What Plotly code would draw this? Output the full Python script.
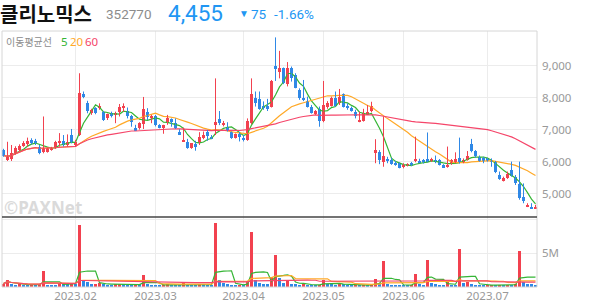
import pandas as pd
import plotly.graph_objects as go

# ---------------- data ----------------
holidays = ["2023-01-23", "2023-01-24", "2023-03-01", "2023-05-01",
            "2023-05-05", "2023-05-29", "2023-06-06"]
dates = [d for d in pd.bdate_range("2023-01-04", "2023-07-19")
         if d.strftime("%Y-%m-%d") not in holidays]

opens = [6360,6080,6080,6260,6370,6500,6540,6670,6650,6470,
         6290,6310,6370,6420,6570,6650,6520,6830,6520,6830,
         8100,7840,7510,7670,7670,7540,7350,7510,7460,7560,
         7700,7580,7410,7040,7040,7170,7560,7350,7410,7130,
         7080,7200,7330,7200,6910,6620,6600,6420,6540,6570,
         6730,6920,6780,7150,7330,7130,7090,6920,6750,6850,
         6750,6690,7200,8000,7960,7750,7750,7720,8990,8810,
         8920,8420,8940,8710,8240,7980,7880,7720,7480,7650,
         7270,7720,7750,8000,7820,8100,7750,7670,7540,7250,
         7270,7480,7580,6260,6310,5980,6080,6050,5950,5950,
         5840,5870,5950,6020,6030,6050,6080,6020,6050,6050,
         5900,5840,5920,6000,6120,5980,6050,6540,6330,6130,
         6100,6100,6050,6000,5580,5400,5480,5740,5530,5290,
         4880,4600,4590,4540]
highs = [6400,6620,6520,6480,6540,6640,6750,6730,6710,6520,
         7410,6440,6460,6650,6890,6830,6850,7020,6680,8760,
         8190,7900,7650,7700,7820,7580,7500,7560,7560,7800,
         7820,7690,7460,7150,7230,8020,7670,7460,7460,7170,
         7150,7460,7350,7350,7010,7060,6710,6580,6650,6920,
         6940,6990,6830,8600,7580,7270,7230,6940,6880,6920,
         6830,7350,8600,8190,8190,7880,7960,8550,9880,9460,
         8940,9110,8970,8760,8290,8550,8030,7770,7610,7720,
         8520,7890,8030,8190,8270,8130,7820,7720,7620,7560,
         7650,7770,7870,6700,6360,7410,6150,6120,6020,5970,
         5950,5950,5990,6780,6090,6080,6910,6120,6190,6080,
         5920,6470,6080,6290,6750,6100,6330,6710,6360,6190,
         6150,6120,6100,6020,5690,5530,5690,6000,5580,6000,
         5320,4700,4700,4650]
lows = [6150,6020,6020,6220,6330,6460,6470,6540,6520,6230,
        6260,6280,6340,6400,6470,6470,6470,6570,6470,6800,
        7980,7510,7460,7480,7620,7270,7300,7380,7200,7410,
        7560,7350,7090,6960,7000,7020,7300,7200,7100,7040,
        6870,7150,7090,7020,6830,6620,6400,6400,6340,6520,
        6700,6650,6700,6830,7140,7100,6940,6710,6720,6630,
        6630,6650,7170,7720,7620,7620,7580,7690,8520,8600,
        8420,8350,8500,8290,7930,7890,7690,7500,7460,7090,
        7230,7650,7720,7720,7770,7690,7620,7560,7350,7230,
        7250,7460,7540,5950,5920,5840,5950,5900,5870,5790,
        5790,5850,5860,5980,5950,5940,5980,5990,5950,5880,
        5800,5810,5900,5950,5940,5950,6030,6290,6120,6000,
        5950,6000,5840,5640,5430,5380,5460,5530,5270,4810,
        4700,4580,4520,4520]
closes = [6190,6140,6260,6420,6500,6590,6650,6570,6590,6260,
          6420,6420,6440,6620,6650,6520,6620,6620,6600,8140,
          8020,7580,7620,7510,7750,7300,7490,7410,7510,7720,
          7750,7440,7250,6970,7200,7650,7380,7440,7150,7060,
          7130,7350,7230,7060,6850,6680,6420,6570,6470,6780,
          6830,6810,6710,7250,7200,7220,6990,6750,6850,6790,
          6690,7270,8100,7820,7650,7690,7650,8520,8890,8920,
          8450,8940,8600,8310,7980,7930,7720,7530,7580,7270,
          7770,7820,8000,7750,8030,7720,7670,7610,7410,7300,
          7510,7540,7750,6370,6050,6160,6020,5930,5880,5810,
          5900,5920,5880,6080,5970,5980,6000,6080,6000,5900,
          5810,5900,6050,6080,5980,6050,6190,6330,6160,6020,
          6020,6020,6000,5670,5460,5500,5600,5560,5320,4860,
          4770,4650,4540,4590]
volumes_m = [0.5,1.1,0.4,0.3,0.4,0.3,0.3,0.4,0.3,0.4,
             2.4,0.3,0.3,0.3,0.6,0.4,0.4,0.5,0.5,9.2,
             1.0,0.7,0.4,0.5,0.6,0.4,0.35,0.3,0.4,0.5,
             0.4,0.3,0.3,0.4,0.4,1.8,0.5,0.3,0.3,0.25,
             0.3,0.4,0.3,0.3,0.3,0.6,0.35,0.3,0.3,0.45,
             0.4,0.3,0.25,9.5,1.1,0.6,0.45,0.35,0.25,0.35,
             0.25,0.95,8.2,1.1,0.6,0.45,0.45,1.5,4.75,1.3,
             0.6,0.95,0.45,0.45,0.35,0.45,0.35,0.25,0.25,0.35,
             1.1,0.5,0.4,0.3,0.45,0.45,0.3,0.25,0.3,0.25,
             0.3,0.3,0.35,1.2,0.6,3.9,0.45,0.35,0.3,0.3,
             0.25,0.25,0.3,2.0,0.5,0.3,4.0,0.6,0.45,0.35,
             0.3,0.8,0.3,0.3,5.7,0.6,0.8,0.45,0.3,0.25,
             0.25,0.3,0.35,0.3,0.35,0.3,0.35,0.3,0.4,5.3,
             0.8,0.5,0.4,0.35]

price_ticks = [5000, 6000, 7000, 8000, 9000]
ma_windows = [5, 20, 60]

name_kr = "클리노믹스"
code = "352770"
last_price = "4,455"
change = "75"
change_pct = "-1.66%"

# ---------------- styles ----------------
RED = "#f2414f"
BLUE = "#2f88e6"
MA_COLORS = {5: "#35b535", 20: "#ffa928", 60: "#f5466a"}
GRID = "#ececec"
TXT = "#999999"

W, H = 594, 304
ML, MR, MT, MB = 2, 57, 31, 17
PW, PH = W - ML - MR, H - MT - MB
split = (H - MB - 217) / PH  # separator between price and volume panes


def px(x):
    return (x - ML) / PW


def py(y):
    return (H - MB - y) / PH


n = len(dates)
idx = list(range(n))
close_s = pd.Series(closes)
vol_s = pd.Series(volumes_m)

fig = go.Figure()

# moving averages (price)
for w in ma_windows:
    fig.add_trace(go.Scatter(x=idx, y=close_s.rolling(w, min_periods=1).mean(),
                             mode="lines", line=dict(color=MA_COLORS[w], width=1.2),
                             xaxis="x", yaxis="y", hoverinfo="skip"))

# candles: wicks + bodies
for up, col in [(True, RED), (False, BLUE)]:
    sel = [i for i in idx if (closes[i] >= opens[i]) == up]
    wx, wy = [], []
    for i in sel:
        wx += [i, i, None]
        wy += [lows[i], highs[i], None]
    fig.add_trace(go.Scatter(x=wx, y=wy, mode="lines", line=dict(color=col, width=1),
                             xaxis="x", yaxis="y", hoverinfo="skip"))
    fig.add_trace(go.Bar(x=sel, y=[abs(closes[i] - opens[i]) for i in sel],
                         base=[min(closes[i], opens[i]) for i in sel],
                         width=0.75, marker=dict(color=col, line=dict(width=0)),
                         xaxis="x", yaxis="y", hoverinfo="skip"))

# volume bars
vcols = [RED if (i == 0 or volumes_m[i] > volumes_m[i - 1]) else BLUE for i in idx]
fig.add_trace(go.Bar(x=idx, y=volumes_m, width=0.75,
                     marker=dict(color=vcols, line=dict(width=0)),
                     xaxis="x", yaxis="y2", hoverinfo="skip"))
for w in ma_windows:
    fig.add_trace(go.Scatter(x=idx, y=vol_s.rolling(w, min_periods=1).mean(),
                             mode="lines", line=dict(color=MA_COLORS[w], width=1.2),
                             xaxis="x", yaxis="y2", hoverinfo="skip"))

# month ticks
tickvals, ticktext = [], []
for i in range(1, n):
    if dates[i].month != dates[i - 1].month:
        tickvals.append(i)
        ticktext.append(dates[i].strftime("%Y.%m"))

fig.update_layout(
    width=W, height=H, margin=dict(l=ML, r=MR, t=MT, b=MB),
    paper_bgcolor="white", plot_bgcolor="white", showlegend=False,
    barmode="overlay", bargap=0,
    font=dict(family="Noto Sans, Noto Sans CJK KR", size=11, color=TXT),
    xaxis=dict(domain=[0, 1], range=[-0.375, n - 0.625], anchor="y2",
               tickvals=tickvals, ticktext=ticktext, showgrid=True, gridcolor=GRID,
               gridwidth=1, zeroline=False, showline=False, ticks="",
               tickfont=dict(size=11.5, color=TXT)),
    yaxis=dict(domain=[split, 1], range=[4270, 10080], side="right", anchor="x",
               tickvals=price_ticks, ticktext=[f"{v:,}" for v in price_ticks],
               showgrid=True, gridcolor=GRID, zeroline=False, ticks="",
               ticklabelstandoff=4, tickfont=dict(size=11.5, color=TXT)),
    yaxis2=dict(domain=[0, split], range=[0, 10.4], side="right", anchor="x",
                tickvals=[5, 10], ticktext=["5M", ""], showgrid=True, gridcolor=GRID,
                zeroline=False, ticks="", ticklabelstandoff=4,
                tickfont=dict(size=11.5, color=TXT)),
)

# frame and pane separator
fig.add_shape(type="rect", xref="paper", yref="paper", x0=0, x1=1, y0=0, y1=1,
              line=dict(color="#d6d6d6", width=1), layer="above")
fig.add_shape(type="line", xref="paper", yref="paper", x0=0, x1=1, y0=split, y1=split,
              line=dict(color="#444444", width=1.5), layer="above")


# header texts
def note(text, x, y, size, color, family="Noto Sans", bold=False):
    fig.add_annotation(text=f"<b>{text}</b>" if bold else text, xref="paper", yref="paper",
                       x=px(x), y=py(y), xanchor="left", yanchor="middle", showarrow=False,
                       borderpad=0, font=dict(size=size, color=color, family=family))


note(name_kr, -1, 13, 20, "#111111", "Noto Sans CJK KR", bold=True)
note(code, 105, 13.5, 13.5, "#8c8c8c", "Roboto")
note(last_price, 167, 13, 22.5, "#2196f3", "Roboto")
note("▼", 238, 13.5, 10, "#2196f3", "Liberation Sans")
note(change, 250, 13.5, 13.5, "#2196f3", "Roboto")
note(change_pct, 273, 13.5, 13.5, "#2196f3", "Roboto")

# MA legend
note("이동평균선", 5, 41, 10, "#8c8c8c", "Noto Sans CJK KR")
note("5", 59.5, 41, 11.5, MA_COLORS[5], "Noto Sans")
note("20", 68.5, 41, 11.5, MA_COLORS[20], "Noto Sans")
note("60", 84, 41, 11.5, MA_COLORS[60], "Noto Sans")

# watermark
note("©PAXNet", 3, 207, 17, "#dadada", "Noto Sans", bold=True)

fig.write_html("out.html")
